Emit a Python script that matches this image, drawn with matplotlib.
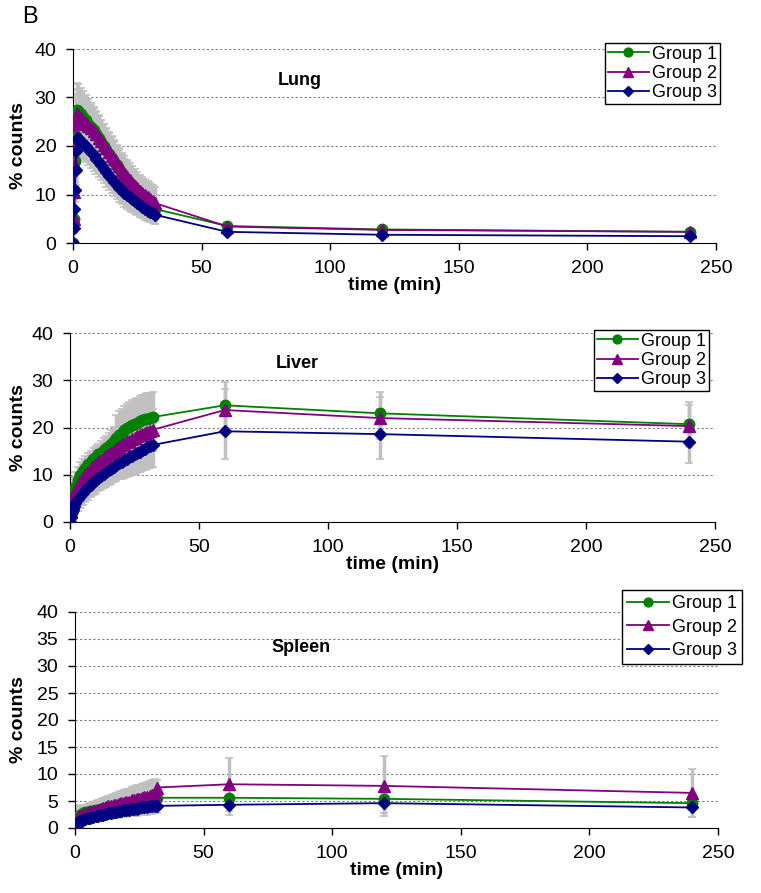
import matplotlib
matplotlib.use("Agg")
import matplotlib.pyplot as plt

plt.rcParams['font.family'] = ['Liberation Sans', 'DejaVu Sans']

# sampling times (min)
time = [0, 0.25, 0.5, 0.75, 1, 1.25, 1.5,
        2, 3, 4, 5, 6, 7, 8, 9, 10, 11, 12, 13, 14, 15, 16, 17,
        18, 19, 20, 21, 22, 23, 24, 25, 26, 27, 28, 29, 30, 31, 32,
        60, 120, 240]

groups = ["Group 1", "Group 2", "Group 3"]

# ---- Lung ----
lung_g1 = [0, 5, 11, 17, 22, 25.5, 27.5,
           27.3, 26.6, 26.0, 25.3, 24.6, 23.9, 23.2, 22.4, 21.6, 20.8, 20.0, 19.2, 18.4, 17.6, 16.8, 16.0,
           15.2, 14.4, 13.7, 13.0, 12.3, 11.7, 11.1, 10.5, 9.9, 9.4, 8.9, 8.4, 7.9, 7.5, 7.0,
           3.5, 2.8, 2.3]
lung_g2 = [0, 5, 10.5, 16, 21, 24.5, 26.5,
           26.3, 25.7, 25.2, 24.7, 24.2, 23.7, 23.1, 22.4, 21.7, 21.0, 20.3, 19.6, 18.8, 18.0, 17.3, 16.5,
           15.8, 15.0, 14.3, 13.6, 13.0, 12.4, 11.8, 11.3, 10.8, 10.3, 9.8, 9.4, 9.0, 8.6, 8.2,
           3.4, 2.7, 2.3]
lung_g3 = [0, 3, 7, 11, 15, 19, 21.5,
           21.6, 21.0, 20.5, 20.0, 19.4, 18.8, 18.1, 17.4, 16.7, 16.0, 15.3, 14.6, 13.9, 13.2, 12.6, 12.0,
           11.4, 10.9, 10.4, 9.9, 9.4, 9.0, 8.6, 8.2, 7.8, 7.4, 7.0, 6.7, 6.4, 6.1, 5.8,
           2.3, 1.7, 1.4]
lung_sd1 = [0, 1, 2, 3.5, 4.5, 5.2, 5.5,
            5.5, 5.4, 5.3, 5.2, 5.1, 5.0, 4.9, 4.8, 4.7, 4.6, 4.5, 4.4, 4.3, 4.2, 4.1, 4.0,
            3.9, 3.8, 3.7, 3.6, 3.5, 3.4, 3.3, 3.3, 3.2, 3.2, 3.1, 3.1, 3.0, 3.0, 3.0,
            0.8, 0.6, 0.5]
lung_sd2 = [0, 1, 2, 3.5, 4.5, 5.0, 5.3,
            5.3, 5.2, 5.1, 5.0, 4.9, 4.8, 4.7, 4.6, 4.5, 4.4, 4.3, 4.2, 4.1, 4.0, 3.9, 3.8,
            3.7, 3.6, 3.6, 3.5, 3.5, 3.4, 3.4, 3.4, 3.3, 3.3, 3.3, 3.3, 3.3, 3.3, 3.3,
            0.8, 0.6, 0.5]
lung_sd3 = [0, 1, 2, 2.5, 3.0, 3.3, 3.5,
            3.5, 3.5, 3.4, 3.4, 3.3, 3.3, 3.2, 3.2, 3.1, 3.1, 3.0, 3.0, 3.0, 2.9, 2.9, 2.9,
            2.9, 2.9, 2.9, 2.9, 2.8, 2.7, 2.6, 2.5, 2.4, 2.3, 2.2, 2.1, 2.0, 1.9, 1.9,
            0.5, 0.4, 0.4]

# ---- Liver ----
liver_g1 = [0, 2.5, 3.8, 4.6, 5.0, 5.6, 6.1,
            7.5, 8.8, 10.0, 10.8, 11.5, 12.2, 12.8, 13.3, 13.8, 14.3, 14.7, 15.2, 15.6, 16.1, 16.6, 17.2,
            17.8, 18.4, 18.9, 19.4, 19.8, 20.2, 20.5, 20.8, 21.0, 21.3, 21.5, 21.7, 21.9, 22.1, 22.2,
            24.7, 23.0, 20.7]
liver_g2 = [0, 2.2, 3.4, 4.1, 4.5, 5.0, 5.5,
            6.5, 7.6, 8.5, 9.3, 10.0, 10.6, 11.2, 11.7, 12.2, 12.6, 13.0, 13.5, 13.9, 14.3, 14.7, 15.1,
            15.5, 15.9, 16.2, 16.6, 16.9, 17.2, 17.5, 17.8, 18.1, 18.4, 18.6, 18.9, 19.1, 19.3, 19.5,
            23.7, 22.0, 20.3]
liver_g3 = [0, 1.0, 1.6, 2.1, 2.5, 2.9, 3.3,
            4.0, 4.8, 5.5, 6.2, 6.8, 7.4, 7.9, 8.4, 8.8, 9.3, 9.7, 10.1, 10.5, 10.9, 11.3, 11.7,
            12.1, 12.5, 12.8, 13.1, 13.4, 13.7, 14.0, 14.3, 14.6, 14.9, 15.2, 15.5, 15.8, 16.1, 16.3,
            19.2, 18.6, 17.0]
liver_sd1 = [0, 1.5, 2.5, 3.0, 3.5, 3.5, 3.5,
             3.0, 2.8, 2.6, 2.5, 2.4, 2.4, 2.3, 2.3, 2.3, 2.3, 2.4, 2.5, 2.6, 2.7, 2.8, 3.0,
             4.8, 5.0, 5.1, 5.2, 5.2, 5.2, 5.3, 5.3, 5.3, 5.3, 5.3, 5.3, 5.3, 5.3, 5.3,
             4.9, 4.6, 4.6]
liver_sd2 = [0, 1.5, 2.0, 2.5, 2.8, 3.0, 3.0,
             3.0, 3.0, 3.0, 3.0, 3.1, 3.1, 3.2, 3.2, 3.3, 3.3, 3.4, 3.4, 3.5, 3.5, 3.6, 3.6,
             3.7, 3.7, 3.8, 3.8, 3.9, 3.9, 4.0, 4.0, 4.1, 4.1, 4.2, 4.2, 4.3, 4.3, 4.4,
             4.5, 4.5, 4.5]
liver_sd3 = [0, 1.0, 1.5, 1.8, 2.0, 2.2, 2.3,
             2.4, 2.5, 2.5, 2.6, 2.6, 2.7, 2.7, 2.7, 2.8, 2.8, 2.9, 2.9, 3.0, 3.1, 3.2, 3.3,
             3.4, 3.5, 3.6, 3.7, 3.8, 3.9, 4.0, 4.1, 4.2, 4.3, 4.4, 4.5, 4.6, 4.7, 4.7,
             5.8, 5.3, 4.5]

# ---- Spleen ----
spleen_g1 = [0, 0.8, 1.3, 1.7, 2.0, 2.2, 2.3,
             2.5, 2.7, 2.9, 3.0, 3.1, 3.2, 3.3, 3.4, 3.5, 3.6, 3.7, 3.8, 3.9, 4.0, 4.1, 4.2,
             4.3, 4.4, 4.5, 4.6, 4.7, 4.8, 4.9, 5.0, 5.0, 5.1, 5.2, 5.3, 5.4, 5.5, 5.6,
             5.6, 5.4, 4.6]
spleen_g2 = [0, 0.6, 1.0, 1.3, 1.6, 1.8, 2.0,
             2.2, 2.4, 2.6, 2.8, 2.9, 3.1, 3.2, 3.4, 3.5, 3.7, 3.8, 4.0, 4.1, 4.2, 4.3, 4.5,
             4.6, 4.7, 4.8, 4.9, 5.1, 5.2, 5.3, 5.4, 5.6, 5.7, 5.8, 6.0, 6.1, 6.3, 7.5,
             8.1, 7.8, 6.5]
spleen_g3 = [0, 0.3, 0.5, 0.7, 0.9, 1.1, 1.2,
             1.3, 1.5, 1.7, 1.8, 1.9, 2.0, 2.2, 2.3, 2.4, 2.5, 2.6, 2.7, 2.8, 2.9, 3.0, 3.1,
             3.2, 3.3, 3.3, 3.4, 3.5, 3.6, 3.6, 3.7, 3.8, 3.8, 3.9, 4.0, 4.0, 4.1, 4.1,
             4.3, 4.6, 3.8]
spleen_sd1 = [0, 0.5, 1.0, 1.5, 2.0, 2.0, 1.5,
              1.0, 0.8, 0.8, 0.8, 0.8, 0.8, 0.8, 0.8, 0.8, 0.8, 0.8, 0.8, 0.8, 0.8, 0.8, 0.8,
              0.8, 0.8, 0.8, 0.8, 0.8, 0.8, 0.8, 0.8, 0.8, 0.8, 0.8, 0.8, 0.8, 0.8, 0.8,
              0.6, 0.6, 0.6]
spleen_sd2 = [0, 0.5, 0.8, 1.0, 1.2, 1.3, 1.4,
              1.5, 1.5, 1.6, 1.6, 1.7, 1.7, 1.8, 1.8, 1.9, 1.9, 2.0, 2.0, 2.1, 2.1, 2.2, 2.2,
              2.3, 2.3, 2.4, 2.4, 2.5, 2.5, 2.6, 2.6, 2.6, 2.7, 2.7, 2.7, 2.7, 2.7, 1.3,
              4.9, 5.5, 4.5]
spleen_sd3 = [0, 0.3, 0.4, 0.5, 0.6, 0.7, 0.7,
              0.7, 0.8, 0.8, 0.8, 0.9, 0.9, 0.9, 1.0, 1.0, 1.0, 1.0, 1.1, 1.1, 1.1, 1.1, 1.2,
              1.2, 1.2, 1.2, 1.2, 1.3, 1.3, 1.3, 1.3, 1.3, 1.4, 1.4, 1.4, 1.4, 1.4, 1.4,
              1.9, 1.8, 1.7]

colors = ['#008000', '#800080', '#000080']
markers = ['o', '^', 'D']
msizes = [7.5, 8, 6.5]

W, H = 761, 893
fig = plt.figure(figsize=(W / 100, H / 100), dpi=100)


def px_axes(left, right, top, bottom):
    return fig.add_axes([left / W, 1 - bottom / H, (right - left) / W, (bottom - top) / H])


panels = [
    ("Lung", [lung_g1, lung_g2, lung_g3], [lung_sd1, lung_sd2, lung_sd3],
     (73, 716, 49, 243), [0, 10, 20, 30, 40], (605, 43), 0.12, 0.15),
    ("Liver", [liver_g1, liver_g2, liver_g3], [liver_sd1, liver_sd2, liver_sd3],
     (70, 715, 333, 522), [0, 10, 20, 30, 40], (594, 330), 0.12, 0.15),
    ("Spleen", [spleen_g1, spleen_g2, spleen_g3], [spleen_sd1, spleen_sd2, spleen_sd3],
     (75, 718, 612, 828), [0, 5, 10, 15, 20, 25, 30, 35, 40], (622, 590), 0.35, 0.3),
]

for name, series, sds, box, yticks, leg_xy, lspace, bpad in panels:
    ax = px_axes(*box)
    # grey error bars first so they sit behind the curves
    for vals, sd in zip(series, sds):
        ax.errorbar(time, vals, yerr=sd, fmt='none', ecolor='#c0c0c0',
                    elinewidth=2.5, capsize=3, capthick=1.2, zorder=1)
    for vals, lab, c, m, ms in zip(series, groups, colors, markers, msizes):
        ax.plot(time, vals, color=c, marker=m, markersize=ms, markeredgecolor=c,
                linewidth=1.3, label=lab, zorder=3)

    ax.set_xlim(0, 250)
    ax.set_ylim(0, 40)
    ax.set_xticks([0, 50, 100, 150, 200, 250])
    ax.set_yticks(yticks)
    ax.grid(axis='y', color='#808080', linestyle=(0, (2, 2)), linewidth=0.8)
    ax.set_axisbelow(True)
    for s in ['top', 'right']:
        ax.spines[s].set_visible(False)
    ax.tick_params(direction='out', length=5, width=1, labelsize=14, pad=7)
    ax.set_xlabel("time (min)", fontsize=14, fontweight='bold', labelpad=0)
    ax.set_ylabel("% counts", fontsize=14, fontweight='bold')
    ax.yaxis.set_label_coords((27 - box[0]) / (box[1] - box[0]), 0.5)
    ax.text(88, 33.5, name, fontsize=13, fontweight='bold', ha='center', va='center')

    leg = ax.legend(loc='upper left', bbox_to_anchor=(leg_xy[0] / W, 1 - leg_xy[1] / H),
                    bbox_transform=fig.transFigure, fontsize=13, frameon=True,
                    fancybox=False, framealpha=1, edgecolor='black', markerscale=0.85,
                    borderpad=bpad, labelspacing=lspace, handlelength=2.3,
                    handletextpad=0.15, borderaxespad=0)
    leg.get_frame().set_linewidth(1)

fig.text(22 / W, 1 - 17 / H, "B", fontsize=17, ha='left', va='center')

fig.savefig("out.png", dpi=100)
